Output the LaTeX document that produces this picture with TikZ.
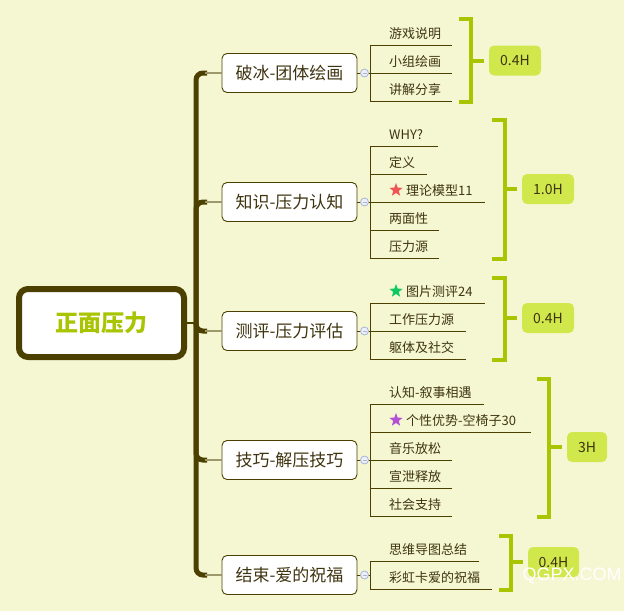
\documentclass[tikz,border=0pt]{standalone}
\usepackage{fontspec}
\newfontfamily\cjk{Noto Sans CJK SC}
\newfontfamily\wmfont{Liberation Sans}
\usetikzlibrary{shapes.geometric}
\definecolor{bg}{HTML}{F5F7D3}
\definecolor{olive}{HTML}{4B4000}
\definecolor{branch}{HTML}{9C9A6C}
\definecolor{txt}{HTML}{3F3410}
\definecolor{lime}{HTML}{A9C400}
\definecolor{tagfill}{HTML}{D0E84B}
\definecolor{collapse}{HTML}{A8B4D8}
\definecolor{foldfill}{HTML}{EEF0F8}
\definecolor{starred}{HTML}{F05555}
\definecolor{stargreen}{HTML}{10C860}
\definecolor{starpurple}{HTML}{B44FD6}
\tikzset{
 rootbox/.style={draw=olive, line width=6pt, fill=white, rounded corners=9pt, minimum width=165pt, minimum height=68pt, inner sep=0pt, font=\cjk\bfseries\fontsize{23}{26}\selectfont, text=lime},
 topic/.style={draw=olive, line width=0.9pt, fill=white, rounded corners=5pt, minimum width=135pt, minimum height=39pt, inner sep=0pt, font=\cjk\fontsize{17}{20}\selectfont, text=txt},
 sub/.style={anchor=base west, inner sep=0pt, font=\cjk\fontsize{13}{15}\selectfont, text=txt},
 uline/.style={draw=olive, line width=1pt},
 trunkline/.style={draw=olive, line width=5pt, rounded corners=7pt},
 twig/.style={draw=branch, line width=2pt},
 rootlink/.style={draw=olive, line width=1.5pt},
 brk/.style={draw=lime, line width=4pt},
 tag/.style={fill=tagfill, rounded corners=5pt, inner sep=0pt, minimum height=30pt, font=\cjk\fontsize{14}{16}\selectfont, text=txt},
 fold/.style={circle, draw=collapse, fill=foldfill, line width=0.8pt, minimum size=8pt, inner sep=0pt,
   path picture={\draw[collapse,line width=0.7pt] ([xshift=-2pt]path picture bounding box.center) -- ([xshift=2pt]path picture bounding box.center);}},
 starmark/.style={star, star points=5, star point ratio=2.4, minimum size=14pt, inner sep=0pt, draw=none},
 watermark/.style={font=\wmfont\fontsize{18}{20}\selectfont, text=white, inner sep=0pt}
}
\begin{document}
\begin{tikzpicture}[x=1pt,y=-1pt]
\fill[bg] (0,0) rectangle (624,611);
\useasboundingbox (0,0) rectangle (624,611);

% root
\node[rootbox] (root) at (101.5,323) {正面压力};
\coordinate (hub) at (196,323);

% level-1 topics
\node[topic] (t1) at (289.5,73) {破冰-团体绘画};
\node[topic] (t2) at (289.5,202) {知识-压力认知};
\node[topic] (t3) at (289.5,331) {测评-压力评估};
\node[topic] (t4) at (289.5,460) {技巧-解压技巧};
\node[topic] (t5) at (289.5,575) {结束-爱的祝福};

% trunk
\draw[rootlink] (root.east) -- (hub);
\foreach \y in {73,202,331,460,575}{
  \draw[trunkline] (hub) -- (196,\y) -- (207,\y);
}
\foreach \i/\y in {1/73,2/202,3/331,4/460,5/575}{
  \coordinate (j\i) at (205,\y);
  \draw[twig] (j\i) -- (t\i.west);
}

% sub items
\foreach \n/\t/\u/\r in {a1/游戏说明/45/452, a2/小组绘画/73/452, a3/讲解分享/101/452,
  b1/WHY?/146/438, b2/定义/174/427, b4/两面性/230/439, b5/压力源/258/439,
  c2/工作压力源/331/466, c3/躯体及社交/359/466,
  d1/认知-叙事相遇/404/484, d3/音乐放松/460/452, d4/宣泄释放/488/452, d5/社会支持/516/452,
  e1/思维导图总结/561/479, e2/彩虹卡爱的祝福/589/492}{
  \node[sub] (\n) at (389,\u-7) {\t};
  \draw[uline] (370,\u) -- (\r,\u);
}
% starred items
\node[starmark, fill=starred] (sb3) at (396,190) {};
\node[sub] (b3) at (406,195) {理论模型11};
\draw[uline] (370,202) -- (485,202);
\node[starmark, fill=stargreen] (sc1) at (396,291) {};
\node[sub] (c1) at (406,296) {图片测评24};
\draw[uline] (370,303) -- (485,303);
\node[starmark, fill=starpurple] (sd2) at (396,420) {};
\node[sub] (d2) at (406,425) {个性优势-空椅子30};
\draw[uline] (370,432) -- (531,432);

% item spines
\draw[uline] (370,45) -- (370,101);
\draw[uline] (370,146) -- (370,258);
\draw[uline] (370,303) -- (370,359);
\draw[uline] (370,404) -- (370,516);
\draw[uline] (370,561) -- (370,589);

% fold markers
\foreach \i/\y in {1/73,2/202,3/331,4/460,5/575}{
  \coordinate (s\i) at (370,\y);
  \draw[uline] (t\i.east) -- (s\i);
  \node[fold] (f\i) at (364.5,\y) {};
}

% brackets and tags
\node[tag, minimum width=52pt] (g1) at (515,60.5) {0.4H};
\draw[brk] (459,18.5) -- (471,18.5) -- (471,101.5) -- (459,101.5);
\draw[brk] (471,60.5) -- (484,60.5);

\node[tag, minimum width=52pt] (g2) at (548,189) {1.0H};
\draw[brk] (492,119.5) -- (505,119.5) -- (505,258.5) -- (492,258.5);
\draw[brk] (505,189) -- (517,189);

\node[tag, minimum width=52pt] (g3) at (548,318) {0.4H};
\draw[brk] (492,277.5) -- (505,277.5) -- (505,359.5) -- (492,359.5);
\draw[brk] (505,318) -- (517,318);

\node[tag, minimum width=40pt] (g4) at (587,447) {3H};
\draw[brk] (537,378.5) -- (549,378.5) -- (549,516.5) -- (537,516.5);
\draw[brk] (549,447) -- (562,447);

\node[tag, minimum width=51pt] (g5) at (553.5,562) {0.4H};
\draw[brk] (499,535.5) -- (511,535.5) -- (511,589.5) -- (499,589.5);
\draw[brk] (511,562) -- (523,562);

% watermark
\node[watermark] (wm) at (572,575.5) {QGPX.COM};
\end{tikzpicture}
\end{document}
